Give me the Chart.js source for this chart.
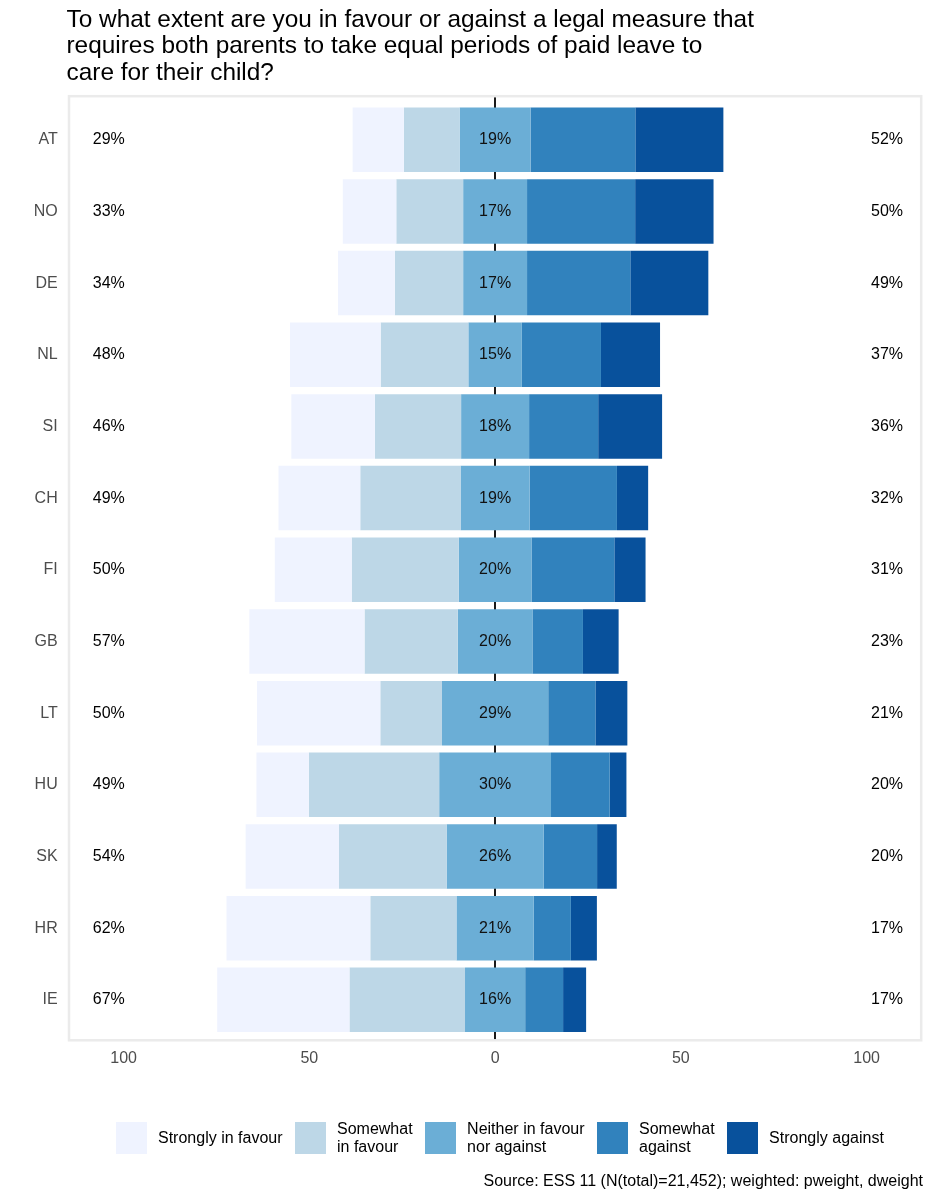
<!DOCTYPE html>
<html>
<head>
<meta charset="utf-8">
<script src="https://cdn.jsdelivr.net/npm/chart.js@4.4.1/dist/chart.umd.min.js"></script>
<style>
html,body{margin:0;padding:0;background:#fff;}
body{width:933px;height:1200px;position:relative;overflow:hidden;font-family:'Liberation Sans',Arial,sans-serif;}
#wrap{position:absolute;left:0;top:0;width:933px;height:1200px;}
#title{position:absolute;left:66.5px;top:5.5px;font-size:24.4px;line-height:26.7px;color:#000;white-space:pre;}
#legend{position:absolute;left:116px;top:1122px;height:32px;display:flex;align-items:center;}
.item{display:flex;align-items:center;margin-right:12.5px;}
.box{width:31px;height:32px;margin-right:11px;}
.lab{font-size:16px;line-height:17.7px;white-space:pre;color:#000;}
#source{position:absolute;left:0;width:923px;top:1172px;text-align:right;font-size:16px;line-height:18.4px;white-space:pre;color:#000;}
</style>
</head>
<body>
<div id="wrap"><canvas id="c"></canvas></div>
<div id="title"></div>
<div id="legend"></div>
<div id="source"></div>
<script>
// ---- text ----
const titleLines = [
  'To what extent are you in favour or against a legal measure that',
  'requires both parents to take equal periods of paid leave to',
  'care for their child?'
];
const sourceText = 'Source: ESS 11 (N(total)=21,452); weighted: pweight, dweight';

// ---- data ----
const categories = ['AT','NO','DE','NL','SI','CH','FI','GB','LT','HU','SK','HR','IE'];
const stronglyFavour  = [13.8, 14.4, 15.3, 24.4, 22.5, 22.0, 20.7, 31.0, 33.2, 14.1, 25.1, 38.7, 35.6];
const somewhatFavour  = [15.0, 18.0, 18.4, 23.6, 23.2, 27.0, 28.8, 25.1, 16.6, 35.1, 29.0, 23.2, 31.1];
const neither         = [19.1, 17.2, 17.2, 14.4, 18.3, 18.6, 19.6, 20.1, 28.6, 30.1, 26.1, 20.8, 16.2];
const somewhatAgainst = [28.2, 29.1, 27.8, 21.3, 18.6, 23.5, 22.3, 13.6, 12.7, 15.8, 14.4, 10.0, 10.2];
const stronglyAgainst = [23.7, 21.1, 21.0, 15.9, 17.2, 8.4, 8.4, 9.6, 8.6, 4.5, 5.3, 7.0, 6.2];

// printed percentage labels
const favourPct  = [29, 33, 34, 48, 46, 49, 50, 57, 50, 49, 54, 62, 67];
const neitherPct = [19, 17, 17, 15, 18, 19, 20, 20, 29, 30, 26, 21, 16];
const againstPct = [52, 50, 49, 37, 36, 32, 31, 23, 21, 20, 20, 17, 17];

const seriesNames  = ['Strongly in favour','Somewhat in favour','Neither in favour nor against','Somewhat against','Strongly against'];
const legendLabels = ['Strongly in favour','Somewhat\nin favour','Neither in favour\nnor against','Somewhat\nagainst','Strongly against'];
const xTickValues  = [-100, -50, 0, 50, 100];

// ---- style ----
const colors = ['#eff3ff','#bdd7e7','#6baed6','#3182bd','#08519c'];
const FONT = "'Liberation Sans', Arial, sans-serif";

// ---- build floating segments ----
const series = [stronglyFavour, somewhatFavour, neither, somewhatAgainst, stronglyAgainst];
function segStart(k, i) {
  const h = neither[i] / 2;
  if (k === 0) return -(h + somewhatFavour[i] + stronglyFavour[i]);
  if (k === 1) return -(h + somewhatFavour[i]);
  if (k === 2) return -h;
  if (k === 3) return h;
  return h + somewhatAgainst[i];
}
const datasets = seriesNames.map((name, k) => ({
  label: name,
  data: categories.map((c, i) => {
    const s = segStart(k, i);
    return { y: i, x: [s, s + series[k][i]] };
  }),
  backgroundColor: colors[k],
  borderWidth: 0,
  grouped: false,
  categoryPercentage: 0.9,
  barPercentage: 1.0
}));

// ---- html texts ----
document.getElementById('title').textContent = titleLines.join('\n');
document.getElementById('source').textContent = sourceText;
const lg = document.getElementById('legend');
legendLabels.forEach((t, k) => {
  const it = document.createElement('div'); it.className = 'item';
  const b = document.createElement('div'); b.className = 'box'; b.style.background = colors[k];
  const l = document.createElement('div'); l.className = 'lab'; l.textContent = t;
  it.appendChild(b); it.appendChild(l); lg.appendChild(it);
});

// ---- plugins ----
const panelBorder = {
  id: 'panelBorder',
  beforeDatasetsDraw(chart) {
    const { ctx, chartArea: a } = chart;
    ctx.save();
    ctx.strokeStyle = '#ebebeb';
    ctx.lineWidth = 2.5;
    ctx.strokeRect(a.left, a.top, a.right - a.left, a.bottom - a.top);
    ctx.restore();
  }
};
const pctLabels = {
  id: 'pctLabels',
  afterDatasetsDraw(chart) {
    const { ctx } = chart;
    const xs = chart.scales.x, ys = chart.scales.y;
    ctx.save();
    ctx.font = '16px ' + FONT;
    ctx.textBaseline = 'middle';
    ctx.textAlign = 'center';
    categories.forEach((c, i) => {
      const y = ys.getPixelForValue(i);
      ctx.fillStyle = '#000';
      ctx.fillText(favourPct[i] + '%', xs.getPixelForValue(-104), y);
      ctx.fillText(againstPct[i] + '%', xs.getPixelForValue(105.5), y);
      ctx.fillStyle = '#111';
      ctx.fillText(neitherPct[i] + '%', xs.getPixelForValue(0), y);
    });
    ctx.restore();
  }
};

Chart.defaults.font.family = FONT;

new Chart(document.getElementById('c'), {
  type: 'bar',
  data: { datasets },
  plugins: [panelBorder, pctLabels],
  options: {
    indexAxis: 'y',
    responsive: true,
    maintainAspectRatio: false,
    animation: false,
    layout: { padding: { top: 96.2, right: 11.8, bottom: 119.7, left: 0 } },
    plugins: {
      legend: { display: false },
      tooltip: { enabled: false },
      title: { display: false }
    },
    scales: {
      x: {
        type: 'linear',
        min: -114.7,
        max: 114.7,
        offset: false,
        afterBuildTicks: (s) => { s.ticks = xTickValues.map(v => ({ value: v })); },
        afterFit: (s) => { s.height = 40; },
        grid: {
          drawTicks: false,
          color: (ctx) => (ctx.tick && ctx.tick.value === 0) ? '#1a1a1a' : 'rgba(0,0,0,0)',
          lineWidth: 2
        },
        border: { display: false },
        ticks: {
          autoSkip: false,
          maxRotation: 0,
          padding: 8.6,
          color: '#4d4d4d',
          font: { size: 16 },
          callback: (v) => String(Math.abs(v))
        }
      },
      y: {
        type: 'linear',
        reverse: true,
        offset: false,
        min: -0.608,
        max: 12.565,
        afterBuildTicks: (s) => { s.ticks = categories.map((c, i) => ({ value: i })); },
        afterFit: (s) => { s.width = 69; },
        grid: { display: false, drawTicks: false, offset: false },
        border: { display: false },
        ticks: {
          autoSkip: false,
          padding: 11.3,
          color: '#4d4d4d',
          font: { size: 16 },
          callback: (v) => categories[v]
        }
      }
    }
  }
});
</script>
</body>
</html>
